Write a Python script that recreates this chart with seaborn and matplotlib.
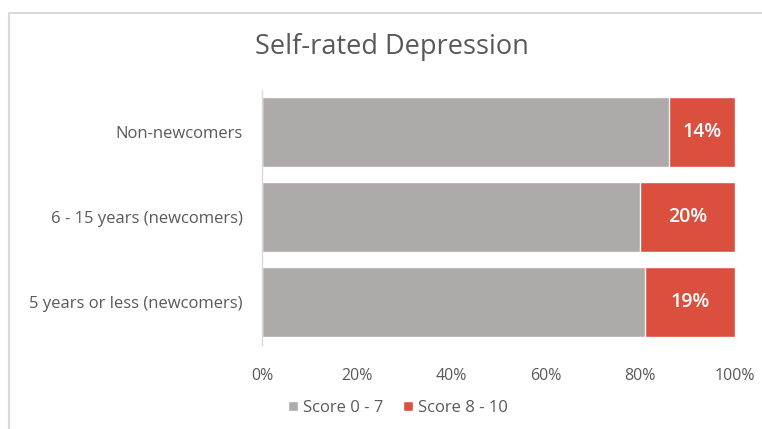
import matplotlib
matplotlib.use("Agg")
import matplotlib.pyplot as plt
from matplotlib.lines import Line2D
from matplotlib.patches import Patch
import seaborn as sns
import pandas as pd

categories = ["Non-newcomers", "6 - 15 years (newcomers)", "5 years or less (newcomers)"]
score_low = [86, 80, 81]     # Score 0 - 7 (%)
score_high = [14, 20, 19]    # Score 8 - 10 (%)
series_names = ["Score 0 - 7", "Score 8 - 10"]
tick_values = [0, 20, 40, 60, 80, 100]

GRAY = "#AEAAAA"
RED = "#DA4F3E"
TEXT = "#595959"

sns.set_theme(style="white")
plt.rcParams["font.family"] = ["Open Sans", "DejaVu Sans"]

df = pd.DataFrame({
    "group": categories,
    "low": score_low,
    "total": [a + b for a, b in zip(score_low, score_high)],
})

fig = plt.figure(figsize=(7.62, 4.29), dpi=100)
ax = fig.add_axes([262 / 762, 1 - 344.5 / 429, (735 - 262) / 762, 255 / 429])

# stacked bars: full-length red underneath, gray share on top
sns.barplot(data=df, x="total", y="group", color=RED, width=0.82,
            saturation=1, ax=ax, orient="h")
sns.barplot(data=df, x="low", y="group", color=GRAY, width=0.82,
            saturation=1, ax=ax, orient="h")

for i, (lo, hi) in enumerate(zip(score_low, score_high)):
    ax.text(lo + hi / 2, i, f"{hi}%", ha="center", va="center",
            color="white", fontsize=14, fontweight="semibold")

ax.set_xlim(0, 100)
ax.set_ylim(2.5, -0.5)
ax.set_xticks(tick_values)
ax.set_xticklabels([f"{v}%" for v in tick_values], color=TEXT, fontsize=11.5)
ax.tick_params(axis="x", length=0, pad=17)
ax.tick_params(axis="y", length=0, pad=14, labelsize=12, labelcolor=TEXT)
ax.set_xlabel("")
ax.set_ylabel("")
for s in ["top", "right", "bottom"]:
    ax.spines[s].set_visible(False)
ax.spines["left"].set_color("#D9D9D9")
ax.spines["left"].set_linewidth(1)

fig.text(392 / 762, 1 - 47 / 429, "Self-rated Depression", ha="center",
         va="center", fontsize=19.5, color=TEXT)

handles = [Patch(facecolor=GRAY, label=series_names[0]),
           Patch(facecolor=RED, label=series_names[1])]
fig.legend(handles=handles, loc="center", bbox_to_anchor=(398 / 762, 1 - 408 / 429),
           ncol=2, frameon=False, fontsize=12, handlelength=0.6, handleheight=0.6,
           handletextpad=0.3, columnspacing=1.2, labelcolor=TEXT)

# chart frame edge
fig.add_artist(Line2D([9 / 762, 1], [1 - 13 / 429, 1 - 13 / 429],
                      transform=fig.transFigure, color="#D9D9D9", lw=1.5))
fig.add_artist(Line2D([9 / 762, 9 / 762], [0, 1 - 13 / 429],
                      transform=fig.transFigure, color="#D9D9D9", lw=1.5))

fig.savefig("out.png", dpi=100)
